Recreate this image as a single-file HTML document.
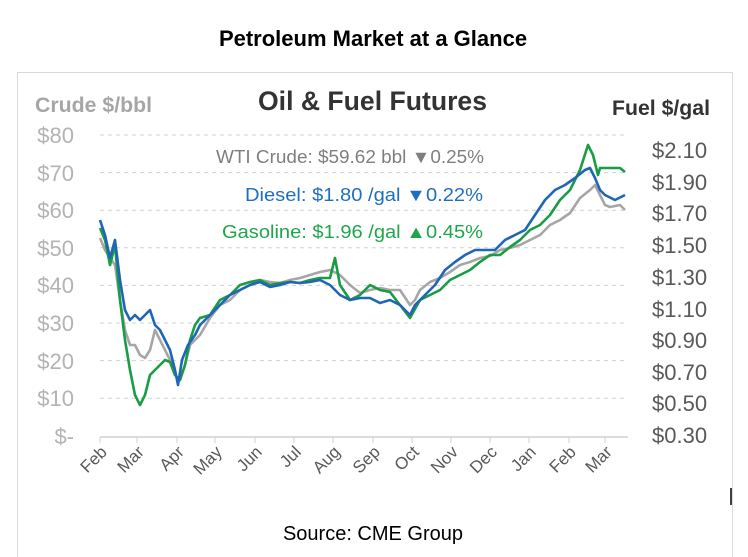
<!DOCTYPE html>
<html><head><style>
body{margin:0;background:#fff;}
svg{display:block;font-family:"Liberation Sans",sans-serif;}
</style></head><body>
<svg width="748" height="557" viewBox="0 0 748 557">
<rect width="748" height="557" fill="#fff"/>
<text x="373" y="46" text-anchor="middle" font-size="22" font-weight="bold" fill="#000">Petroleum Market at a Glance</text>
<rect x="17.5" y="72.5" width="715" height="490" fill="#fff" stroke="#d9d9d9"/>
<text x="258" y="110" font-size="27" font-weight="bold" fill="#333" textLength="229" lengthAdjust="spacingAndGlyphs">Oil &amp; Fuel Futures</text>
<text x="35" y="112" font-size="21" font-weight="bold" fill="#a6a6a6" textLength="117" lengthAdjust="spacingAndGlyphs">Crude $/bbl</text>
<text x="612" y="115" font-size="21" font-weight="bold" fill="#333" textLength="98" lengthAdjust="spacingAndGlyphs">Fuel $/gal</text>
<g stroke="#d0d0d0" stroke-dasharray="4,4" stroke-width="1">
<line x1="100" y1="135" x2="628" y2="135"/><line x1="100" y1="172.6" x2="628" y2="172.6"/>
<line x1="100" y1="210.2" x2="628" y2="210.2"/><line x1="100" y1="247.8" x2="628" y2="247.8"/>
<line x1="100" y1="285.4" x2="628" y2="285.4"/><line x1="100" y1="323" x2="628" y2="323"/>
<line x1="100" y1="360.6" x2="628" y2="360.6"/><line x1="100" y1="398.2" x2="628" y2="398.2"/>
</g>
<line x1="100" y1="437" x2="628" y2="437" stroke="#d0d0d0" stroke-width="1.5"/>
<g stroke="#d0d0d0"><line x1="100" y1="437" x2="100" y2="443"/><line x1="137" y1="437" x2="137" y2="443"/><line x1="177" y1="437" x2="177" y2="443"/><line x1="215" y1="437" x2="215" y2="443"/><line x1="255" y1="437" x2="255" y2="443"/><line x1="294" y1="437" x2="294" y2="443"/><line x1="333" y1="437" x2="333" y2="443"/><line x1="373" y1="437" x2="373" y2="443"/><line x1="412" y1="437" x2="412" y2="443"/><line x1="451" y1="437" x2="451" y2="443"/><line x1="490" y1="437" x2="490" y2="443"/><line x1="529" y1="437" x2="529" y2="443"/><line x1="569" y1="437" x2="569" y2="443"/><line x1="605" y1="437" x2="605" y2="443"/></g>
<g font-size="22" fill="#b3b3b3" text-anchor="end">
<text x="74" y="143">$80</text><text x="74" y="181">$70</text><text x="74" y="218">$60</text><text x="74" y="256">$50</text><text x="74" y="293">$40</text><text x="74" y="331">$30</text><text x="74" y="369">$20</text><text x="74" y="406">$10</text><text x="74" y="444">$-</text>
</g>
<g font-size="22" fill="#595959">
<text x="652" y="158">$2.10</text><text x="652" y="190">$1.90</text><text x="652" y="221">$1.70</text><text x="652" y="253">$1.50</text><text x="652" y="285">$1.30</text><text x="652" y="317">$1.10</text><text x="652" y="348">$0.90</text><text x="652" y="380">$0.70</text><text x="652" y="411">$0.50</text><text x="652" y="443">$0.30</text>
</g>
<g font-size="17" fill="#595959" text-anchor="end">
<text transform="translate(108,453) rotate(-45)">Feb</text><text transform="translate(145,453) rotate(-45)">Mar</text><text transform="translate(185,453) rotate(-45)">Apr</text><text transform="translate(223,453) rotate(-45)">May</text><text transform="translate(263,453) rotate(-45)">Jun</text><text transform="translate(302,453) rotate(-45)">Jul</text><text transform="translate(341,453) rotate(-45)">Aug</text><text transform="translate(381,453) rotate(-45)">Sep</text><text transform="translate(420,453) rotate(-45)">Oct</text><text transform="translate(459,453) rotate(-45)">Nov</text><text transform="translate(498,453) rotate(-45)">Dec</text><text transform="translate(537,453) rotate(-45)">Jan</text><text transform="translate(577,453) rotate(-45)">Feb</text><text transform="translate(613,453) rotate(-45)">Mar</text>
</g>
<g font-size="18">
<text x="216" y="163" fill="#7f7f7f" textLength="268" lengthAdjust="spacingAndGlyphs">WTI Crude: $59.62 bbl  ▼0.25%</text>
<text x="245" y="201" fill="#1f6fbf" textLength="238" lengthAdjust="spacingAndGlyphs">Diesel:   $1.80 /gal  ▼0.22%</text>
<text x="222" y="238" fill="#1fa64a" textLength="261" lengthAdjust="spacingAndGlyphs">Gasoline:   $1.96 /gal  ▲0.45%</text>
</g>
<g fill="none" stroke-width="2.6" stroke-linejoin="round">
<polyline stroke="#a6a6a6" points="100,238 105,250 110,258 115,265 120,300 125,330 130,345 135,345 140,355 145,358 150,350 155,330 160,340 165,350 170,360 175,375 180,380 185,365 190,345 200,335 210,318 220,305 230,300 240,290 250,285 260,280 270,282 280,283 290,280 300,278 310,275 320,272 330,270 340,275 350,285 360,293 370,290 380,288 390,290 400,290 410,305 415,300 420,290 430,282 440,278 450,272 460,265 470,262 480,258 490,256 500,250 510,248 520,245 530,240 540,235 550,225 560,220 570,213 580,198 590,190 595,185 600,195 605,205 610,207 620,205 625,210"/>
<polyline stroke="#1a9c44" points="100,228 105,240 110,265 115,245 120,300 125,340 130,370 135,395 140,405 145,395 150,375 155,370 160,365 165,360 170,362 175,375 180,380 185,365 190,340 195,325 200,318 210,315 220,300 230,295 240,285 250,282 260,280 270,285 280,283 290,282 300,283 310,280 320,278 330,278 335,258 340,285 350,300 360,295 370,285 380,290 390,292 400,305 410,318 420,300 430,295 440,290 450,280 460,275 470,270 480,262 490,255 500,255 510,247 520,240 530,230 540,225 550,215 560,200 570,190 580,170 588,145 593,155 598,175 600,168 610,168 620,168 625,172"/>
<polyline stroke="#1f66b5" points="100,220 105,235 110,258 115,240 120,280 125,310 130,320 135,315 140,320 145,315 150,310 155,325 160,330 165,340 170,350 175,370 178,385 182,360 188,345 195,335 200,325 210,315 220,305 230,295 240,290 250,285 260,282 270,287 280,285 290,282 300,283 310,282 320,280 330,285 340,295 350,300 360,298 370,298 380,303 390,300 400,305 410,315 415,305 425,295 435,285 445,270 455,262 465,255 475,250 485,250 495,250 505,240 515,235 525,230 535,215 545,200 555,190 565,185 575,178 585,170 590,168 595,178 600,190 605,195 615,200 625,195"/>
</g>
<line x1="731" y1="488" x2="731" y2="505" stroke="#000" stroke-width="1.5"/>
<text x="373" y="540" text-anchor="middle" font-size="20" fill="#000">Source: CME Group</text>
</svg>
</body></html>
